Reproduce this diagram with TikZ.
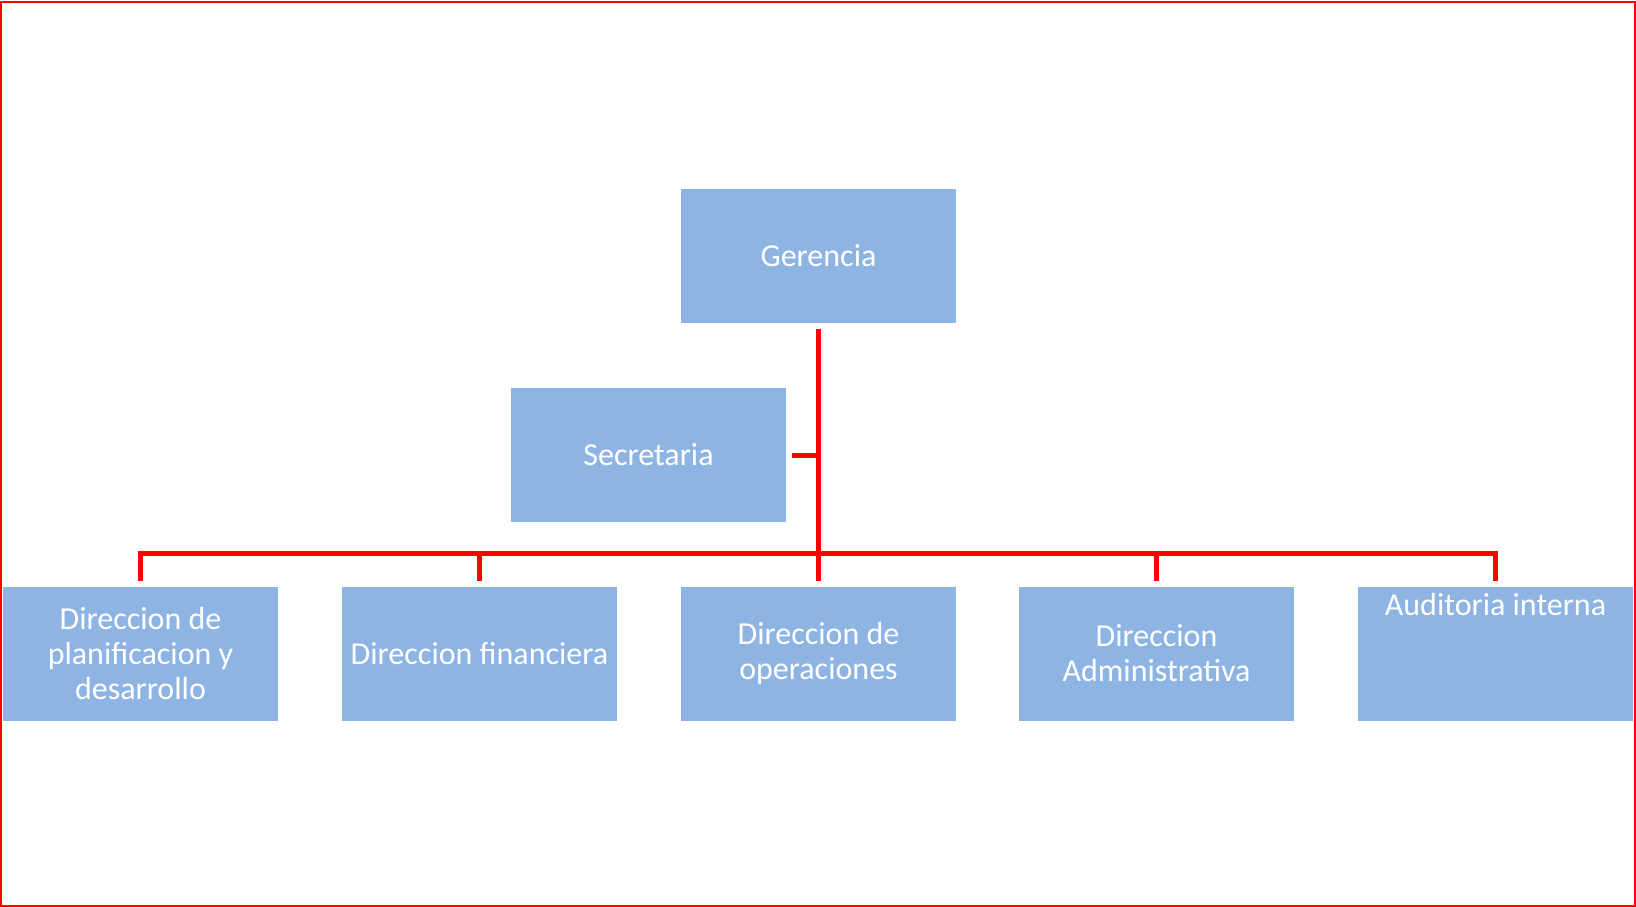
\documentclass[tikz,border=0pt]{standalone}
\usepackage{fontspec}
\setmainfont{Carlito}
\definecolor{boxblue}{HTML}{8EB4E3}
\definecolor{linered}{HTML}{FF0000}
\begin{document}
\begin{tikzpicture}[x=1pt,y=-1pt,
  orgbox/.style={rectangle, fill=boxblue, draw=none, minimum width=275pt, minimum height=134pt,
    text=white, align=center, inner sep=0pt,
    font=\fontsize{32pt}{35pt}\selectfont},
  conn/.style={draw=linered, line width=5pt, line join=miter}]
\useasboundingbox (0,0) rectangle (1636,907);
\draw[linered, line width=2pt] (1,2) rectangle (1635,906);

\node[orgbox] (g) at (818.5,256) {Gerencia};
\node[orgbox] (s) at (648.5,455) {Secretaria};
\node[orgbox] (d1) at (140.5,653.5) {Direccion de\\planificacion y\\desarrollo};
\node[orgbox] (d2) at (479.5,653.5) {Direccion financiera};
\node[orgbox] (d3) at (818.5,653.5) {Direccion de\\operaciones};
\node[orgbox] (d4) at (1156.5,653.5) {Direccion\\Administrativa};
\node[orgbox, label={[text=white, font=\fontsize{32pt}{35pt}\selectfont, anchor=center, yshift=48.5pt]center:Auditoria interna}] (d5) at (1495.5,653.5) {};

\draw[conn] ([yshift=-6pt]g.south) -- ([yshift=5pt]d3.north);
\draw[conn] ([xshift=6pt]s.east) -- (s.east -| g.south);
\draw[conn] ([yshift=5pt]d1.north) -- ([yshift=33pt]d1.north) -- ([yshift=33pt]d5.north) -- ([yshift=5pt]d5.north);
\draw[conn] ([yshift=33pt]d2.north) -- ([yshift=5pt]d2.north);
\draw[conn] ([yshift=33pt]d4.north) -- ([yshift=5pt]d4.north);
\end{tikzpicture}
\end{document}
